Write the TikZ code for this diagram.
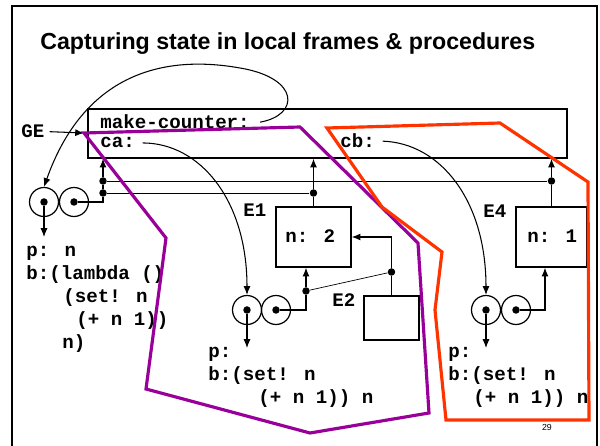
\documentclass[tikz,border=0pt]{standalone}
\usepackage{fontspec}
\setmainfont{Liberation Sans}
\newfontfamily\codefont{Liberation Mono}
\usepackage{tikz}
\usetikzlibrary{arrows.meta}

\definecolor{envpurple}{HTML}{990099}
\definecolor{envred}{HTML}{FF3300}

\begin{document}
\begin{tikzpicture}[x=0.02cm, y=-0.02cm,
    code/.style={font=\fontsize{10.9}{13}\codefont\bfseries, inner sep=0pt, anchor=base west},
    frame/.style={draw, line width=0.8pt, inner sep=0pt},
    cell/.style={circle, draw, line width=0.7pt, minimum size=0.58cm, inner sep=0pt},
    dot/.style={circle, fill, inner sep=0pt, minimum size=0.15cm},
    ptr/.style={-{Latex[length=5pt,width=4pt]}, line width=0.6pt},
    envline/.style={line width=1.8pt, line join=miter}]
  \useasboundingbox (0,0) rectangle (600,446);
  % slide border, open at the bottom
  \draw[line width=1.1pt] (12,460) -- (12,6) -- (597,6) -- (597,460);
  \node[anchor=base west, inner sep=0pt, font=\fontsize{13.2}{15}\selectfont\bfseries] (title) at (40,50)
    {Capturing state in local frames \& procedures};

  % global environment
  \node[frame, minimum width=9.58cm, minimum height=0.98cm] (ge) at (327.5,133.5) {};
  \node[code] (mc) at (100,129) {make-counter:};
  \node[code] (ca) at (100,148) {ca:};
  \node[code] (cb) at (340,148) {cb:};
  \node[code] (gelbl) at (21,138) {GE};
  \coordinate (geentry) at (84,133);
  \draw[ptr] (gelbl.east) ++(0.1cm,0) -- (geentry);

  % frames E1, E2, E4
  \node[frame, minimum width=1.5cm, minimum height=1.2cm] (e1) at (313.5,237) {};
  \node[code] at (285,243) {n: 2};
  \node[code] (e1lbl) at (243,217) {E1};
  \node[frame, minimum width=1.42cm, minimum height=1.2cm] (e4) at (551.5,237) {};
  \node[code] at (527,243) {n: 1};
  \node[code] (e4lbl) at (483,218) {E4};
  \node[frame, minimum width=1.1cm, minimum height=0.88cm] (e2) at (391.5,318) {};
  \node[code] (e2lbl) at (332,307) {E2};

  % procedure objects
  \node[cell] (gl) at (44,202) {};
  \node[cell] (gr) at (74,202) {};
  \node[cell] (e1l) at (247,310) {};
  \node[cell] (e1r) at (276,310) {};
  \node[cell] (e4l) at (486,310) {};
  \node[cell] (e4r) at (516,310) {};
  \foreach \c in {gl,gr,e1l,e1r,e4l,e4r}
    \node[dot] (\c d) at (\c) {};

  % parameters and bodies
  \node[code] (gp1) at (26,257) {p: n};
  \node[code] (gp2) at (26,280) {b:(lambda ()};
  \node[code] (gp3) at (63,303) {(set! n};
  \node[code] (gp4) at (76,326) {(+ n 1))};
  \node[code] (gp5) at (62,349) {n)};
  \node[code] (ap1) at (208,358) {p:};
  \node[code] (ap2) at (208,381) {b:(set! n};
  \node[code] (ap3) at (258,404) {(+ n 1)) n};
  \node[code] (bp1) at (448,358) {p:};
  \node[code] (bp2) at (448,381) {b:(set! n};
  \node[code] (bp3) at (473,404) {(+ n 1)) n};
  \coordinate (gpend) at (44,237);
  \coordinate (apend) at (247,348);
  \coordinate (bpend) at (486,348);
  \draw[ptr] (gld) -- (gpend);
  \draw[ptr] (e1ld) -- (apend);
  \draw[ptr] (e4ld) -- (bpend);

  % environment pointers
  \node[dot] (gd1) at (103,181) {};
  \node[dot] (gd2) at (103,193) {};
  \node[dot] (e1d) at (e1.north |- gd2) {};
  \node[dot] (e4d) at (e4.north |- gd1) {};
  \draw[ptr] (grd) -| (gd2) -- (gd1) -- (gd1 |- ge.south);
  \draw (gd2) -- (e1d);
  \draw (gd1) -- (e4d);
  \draw[ptr] (e1.north) -- (e1d) -- (e1d |- ge.south);
  \draw[ptr] (e4.north) -- (e4d) -- (e4d |- ge.south);
  \node[dot] (e1pd) at (306,291) {};
  \node[dot] (e2d) at (e2.north |- 0,272) {};
  \draw[ptr] (e1rd) -| (e1pd) -- (e1pd |- e1.south);
  \draw (e1pd) -- (e2d);
  \draw[ptr] (e2.north) -- (e2d) |- (e1.east);
  \draw[ptr] (e4rd) -| ([xshift=-0.13cm]e4.south);

  % bindings to procedures
  \draw[ptr] ([xshift=0.2cm]mc.east) .. controls (300,115) and (300,78) .. (240,68)
    .. controls (150,52) and (80,85) .. (gl.north);
  \draw[ptr] ([xshift=0.15cm]ca.east) .. controls (200,143) and (247,200) .. (e1l.north);
  \draw[ptr] ([xshift=0.15cm]cb.east) .. controls (440,143) and (486,200) .. (e4l.north);

  % regions captured by ca and cb
  \draw[envline, envpurple] (geentry) -- (300,127) -- (418,243) -- (429,413)
    -- (310,433) -- (146,389) -- (166,238) -- cycle;
  \draw[envline, envred] (327,128) -- (500,123) -- (588,182) -- (589,420)
    -- (446,420) -- (435,310) -- (442,252) -- (382,207) -- cycle;

  \node[font=\fontsize{5}{6}\selectfont] (pg) at (547,427) {29};
\end{tikzpicture}
\end{document}
